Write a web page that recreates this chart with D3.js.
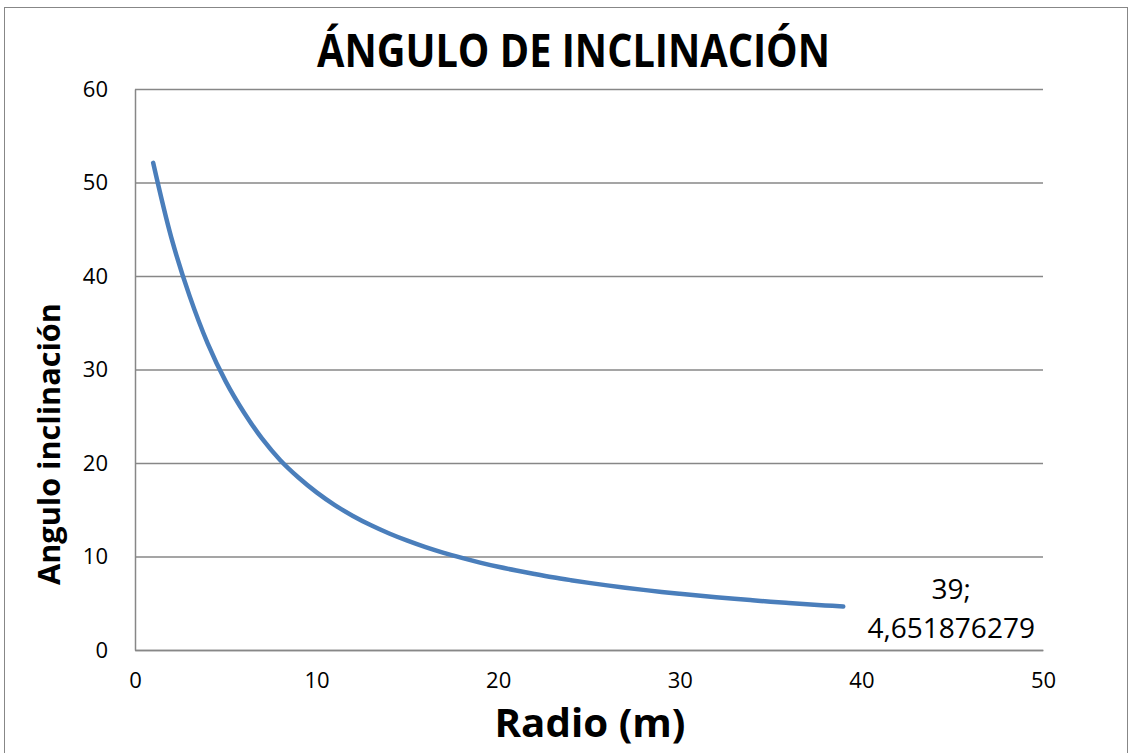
<!DOCTYPE html>
<html>
<head>
<meta charset="utf-8">
<script src="https://cdn.jsdelivr.net/npm/d3@7"></script>
<style>
  html, body { margin: 0; padding: 0; background: #fff; }
  svg { display: block; }
</style>
</head>
<body>
<svg id="chart" width="1131" height="753"></svg>
<script>
// Radio (m) e inclinación (grados)
const radios = [1, 2, 3, 4, 5, 6, 7, 8, 9, 10, 11, 12, 13, 14, 15, 16, 17, 18, 19, 20,
  21, 22, 23, 24, 25, 26, 27, 28, 29, 30, 31, 32, 33, 34, 35, 36, 37, 38, 39];
const angulos = [52.1, 44.1, 37.9, 32.8, 28.7, 25.4, 22.6, 20.3, 18.45, 16.86,
  15.50, 14.34, 13.34, 12.46, 11.69, 11.00, 10.39, 9.85, 9.35, 8.90,
  8.50, 8.13, 7.78, 7.47, 7.18, 6.91, 6.66, 6.43, 6.21, 6.01,
  5.82, 5.64, 5.47, 5.32, 5.17, 5.03, 4.89, 4.77, 4.651876279];
const xTicks = [0, 10, 20, 30, 40, 50];
const yTicks = [0, 10, 20, 30, 40, 50, 60];
const titulo = "ÁNGULO DE INCLINACIÓN";
const tituloX = "Radio (m)";
const tituloY = "Angulo inclinación";

const svg = d3.select("#chart");
const plot = { left: 135, right: 1043, top: 89, bottom: 650 };
const gridColor = "#878787";
const font = "'Open Sans', 'Noto Sans', sans-serif";

const x = d3.scaleLinear().domain([0, 50]).range([plot.left, plot.right]);
const y = d3.scaleLinear().domain([0, 60]).range([plot.bottom, plot.top]);

// chart frame
svg.append("rect")
  .attr("x", 4.5).attr("y", 7.5)
  .attr("width", 1123).attr("height", 770)
  .attr("fill", "none").attr("stroke", gridColor).attr("stroke-width", 1);

// horizontal gridlines
svg.append("g")
  .attr("transform", `translate(${plot.left},0)`)
  .call(d3.axisLeft(y).tickValues(yTicks).tickSize(-(plot.right - plot.left)).tickFormat(""))
  .call(g => g.select(".domain").remove())
  .call(g => g.selectAll("line").attr("stroke", gridColor).attr("stroke-width", 1.5));

// y axis
svg.append("g")
  .attr("transform", `translate(${plot.left},0)`)
  .call(d3.axisLeft(y).tickValues(yTicks).tickSize(0).tickPadding(27))
  .call(g => g.select(".domain").attr("stroke", gridColor).attr("stroke-width", 1.5))
  .call(g => g.selectAll("text")
    .attr("font-family", font).attr("font-size", 22).attr("fill", "#000"));

// x axis
svg.append("g")
  .attr("transform", `translate(0,${plot.bottom})`)
  .call(d3.axisBottom(x).tickValues(xTicks).tickSize(0).tickPadding(22))
  .call(g => g.select(".domain").attr("stroke", gridColor).attr("stroke-width", 1.5))
  .call(g => g.selectAll("text")
    .attr("font-family", font).attr("font-size", 22).attr("fill", "#000"));

// curve
const pts = radios.map((r, i) => [r, angulos[i]]);
const line = d3.line()
  .x(d => x(d[0])).y(d => y(d[1]))
  .curve(d3.curveCatmullRom.alpha(0.5));
svg.append("path")
  .datum(pts)
  .attr("d", line)
  .attr("fill", "none")
  .attr("stroke", "#4A7EBB")
  .attr("stroke-width", 4.5)
  .attr("stroke-linecap", "round")
  .attr("stroke-linejoin", "round");

// label on the last point
const last = pts[pts.length - 1];
const lbl = svg.append("g")
  .attr("font-family", font).attr("font-size", 28).attr("fill", "#000")
  .attr("text-anchor", "middle");
lbl.append("text")
  .attr("x", x(last[0]) + 108).attr("y", y(last[1]) - 8)
  .text(last[0] + ";");
lbl.append("text")
  .attr("x", x(last[0]) + 108).attr("y", y(last[1]) + 31)
  .text(String(last[1]).replace(".", ","));

// titles
svg.append("text")
  .attr("x", 573.5).attr("y", 67)
  .attr("text-anchor", "middle")
  .attr("font-family", font).attr("font-weight", "bold").attr("font-size", 46)
  .attr("textLength", 513).attr("lengthAdjust", "spacingAndGlyphs")
  .text(titulo);

svg.append("text")
  .attr("x", 590).attr("y", 737)
  .attr("text-anchor", "middle")
  .attr("font-family", font).attr("font-weight", "bold").attr("font-size", 40)
  .attr("textLength", 191).attr("lengthAdjust", "spacingAndGlyphs")
  .text(tituloX);

svg.append("text")
  .attr("transform", "translate(60,444) rotate(-90)")
  .attr("text-anchor", "middle")
  .attr("font-family", font).attr("font-weight", "bold").attr("font-size", 30)
  .attr("textLength", 282).attr("lengthAdjust", "spacingAndGlyphs")
  .text(tituloY);
</script>
</body>
</html>
